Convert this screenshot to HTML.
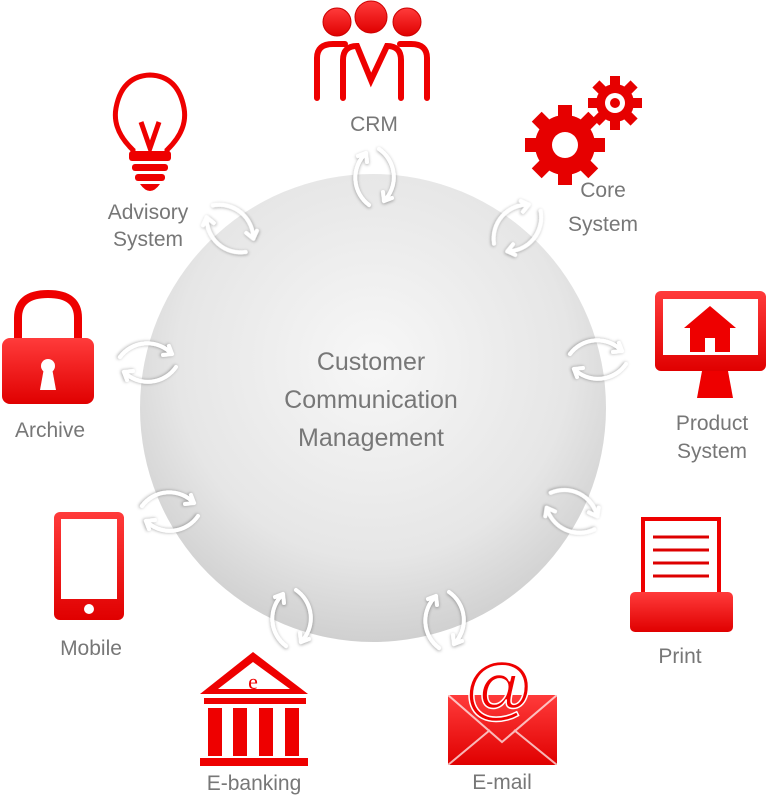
<!DOCTYPE html>
<html><head><meta charset="utf-8"><style>
html,body{margin:0;padding:0;background:#fff;width:768px;height:797px;overflow:hidden}
svg{display:block}
text{font-family:"Liberation Sans",sans-serif;fill:#777}
</style></head><body>
<svg width="768" height="797" viewBox="0 0 768 797" xmlns="http://www.w3.org/2000/svg">
<defs>
<radialGradient id="g" cx="0.5" cy="0.4" r="0.6">
<stop offset="0" stop-color="#f7f7f7"/><stop offset="0.7" stop-color="#e6e6e6"/><stop offset="1" stop-color="#d0d0d0"/>
</radialGradient>
<linearGradient id="r" x1="0" y1="0" x2="0" y2="1"><stop offset="0" stop-color="#ff3b3b"/><stop offset="1" stop-color="#e00000"/></linearGradient>
<filter id="sh" x="-50%" y="-50%" width="200%" height="200%"><feDropShadow dx="0" dy="1" stdDeviation="1.5" flood-color="#000" flood-opacity="0.35"/></filter>
<g id="ar" filter="url(#sh)" fill="none" stroke="#fff" stroke-width="4" stroke-linecap="round" stroke-linejoin="round">
<path d="M-9,-24 A34,34 0 0,0 -6,28"/><path d="M4,-28 A34,34 0 0,1 9,24"/>
<path d="M-17,-21 L-9,-24 L-8,-15"/>
<path d="M17,21 L9,24 L8,15"/>
</g>
</defs>
<ellipse cx="373" cy="408" rx="233" ry="234" fill="url(#g)"/>
<text x="371" y="370" font-size="25" text-anchor="middle" fill="#666">Customer</text>
<text x="371" y="408" font-size="25" text-anchor="middle" fill="#666">Communication</text>
<text x="371" y="446" font-size="25" text-anchor="middle" fill="#666">Management</text>

<use href="#ar" transform="translate(375,177)"/>
<use href="#ar" transform="translate(518,228) rotate(45)"/>
<use href="#ar" transform="translate(598,360) rotate(90)"/>
<use href="#ar" transform="translate(572,512) rotate(120)"/>
<use href="#ar" transform="translate(445,620)"/>
<use href="#ar" transform="translate(292,618)"/>
<use href="#ar" transform="translate(170,512) rotate(90)"/>
<use href="#ar" transform="translate(148,363) rotate(90)"/>
<use href="#ar" transform="translate(230,228) rotate(-45)"/>

<!-- CRM -->
<g fill="url(#r)" stroke="#c00" stroke-width="1">
<circle cx="337" cy="22" r="14"/><circle cx="371" cy="17" r="16"/><circle cx="407" cy="22" r="14"/>
</g>
<g fill="none" stroke="#e00" stroke-width="6" stroke-linecap="round">
<path d="M317,98 V58 Q317,44 333,44 H345"/><path d="M427,98 V58 Q427,44 411,44 H400"/>
<path d="M343,98 V60 Q343,46 357,46 L371,80 L387,46 Q401,46 401,60 V98"/>
</g>
<text x="374" y="131" font-size="21" text-anchor="middle">CRM</text>

<!-- Core -->
<g fill="#e60000">
<circle cx="565" cy="145" r="30"/>
<g transform="translate(565,145)"><rect x="-7" y="-40" width="14" height="80"/><rect x="-7" y="-40" width="14" height="80" transform="rotate(45)"/><rect x="-7" y="-40" width="14" height="80" transform="rotate(90)"/><rect x="-7" y="-40" width="14" height="80" transform="rotate(135)"/></g>
<circle cx="615" cy="103" r="19"/>
<g transform="translate(615,103)"><rect x="-5" y="-27" width="10" height="54"/><rect x="-5" y="-27" width="10" height="54" transform="rotate(45)"/><rect x="-5" y="-27" width="10" height="54" transform="rotate(90)"/><rect x="-5" y="-27" width="10" height="54" transform="rotate(135)"/></g>
</g>
<circle cx="565" cy="145" r="13" fill="#fff"/>
<circle cx="615" cy="103" r="10" fill="#fff"/><circle cx="615" cy="103" r="5" fill="#e60000"/>
<text x="603" y="197" font-size="21" text-anchor="middle">Core</text>
<text x="603" y="231" font-size="21" text-anchor="middle">System</text>

<!-- Product -->
<rect x="655" y="291" width="111" height="80" rx="6" fill="url(#r)"/>
<rect x="663" y="299" width="95" height="56" fill="#fff"/>
<path d="M702,371 H728 L733,398 H697 Z" fill="#e00"/>
<path d="M684,328 L710,306 L736,328 H730 V352 H715 V338 H705 V352 H690 V328 Z" fill="#e00"/>
<text x="712" y="430" font-size="21" text-anchor="middle">Product</text>
<text x="712" y="458" font-size="21" text-anchor="middle">System</text>

<!-- Print -->
<rect x="643" y="519" width="76" height="80" fill="#fff" stroke="#e00" stroke-width="4"/>
<g stroke="#d00" stroke-width="3"><line x1="653" y1="537" x2="709" y2="537"/><line x1="653" y1="550" x2="709" y2="550"/><line x1="653" y1="563" x2="709" y2="563"/><line x1="653" y1="576" x2="709" y2="576"/></g>
<rect x="630" y="592" width="103" height="40" rx="5" fill="url(#r)"/>
<text x="680" y="663" font-size="21" text-anchor="middle">Print</text>

<!-- Email -->
<rect x="448" y="695" width="109" height="70" fill="url(#r)"/>
<path d="M448,695 L502,742 L557,695 M448,765 L490,730 M557,765 L514,730" stroke="#fff" stroke-width="2" fill="none" opacity="0.7"/>
<text x="499" y="712" font-size="70" text-anchor="middle" style="fill:#e00" stroke="#fff" stroke-width="1.5">@</text>
<text x="502" y="789" font-size="21" text-anchor="middle">E-mail</text>

<!-- E-banking -->
<path d="M253,652 L200,694 H308 Z" fill="#e00"/>
<path d="M253,662 L218,689 H290 Z" fill="#fff"/>
<text x="253" y="689" font-size="22" text-anchor="middle" style="fill:#e00;font-family:'Liberation Serif',serif">e</text>
<rect x="204" y="698" width="102" height="6" fill="#e00"/>
<g fill="#e00"><rect x="208" y="708" width="14" height="48"/><rect x="233" y="708" width="14" height="48"/><rect x="259" y="708" width="14" height="48"/><rect x="285" y="708" width="14" height="48"/></g>
<rect x="200" y="758" width="108" height="8" fill="#e00"/>
<text x="254" y="790" font-size="21" text-anchor="middle">E-banking</text>

<!-- Mobile -->
<rect x="54" y="512" width="70" height="108" rx="6" fill="url(#r)"/>
<rect x="61" y="519" width="56" height="80" fill="#fff"/>
<circle cx="89" cy="609" r="5" fill="#fff"/>
<text x="91" y="655" font-size="21" text-anchor="middle">Mobile</text>

<!-- Archive -->
<path d="M18,340 V318 Q18,294 48,294 Q78,294 78,318 V340" fill="none" stroke="#e00" stroke-width="8"/>
<rect x="2" y="338" width="92" height="66" rx="8" fill="url(#r)"/>
<circle cx="48" cy="366" r="7" fill="#fff"/><path d="M44,368 L40,390 H56 L52,368 Z" fill="#fff"/>
<text x="50" y="437" font-size="21" text-anchor="middle">Archive</text>

<!-- Advisory -->
<path d="M133,150 Q112,130 116,108 Q122,76 150,75 Q178,76 184,108 Q188,130 167,150 V154 H133 Z" fill="none" stroke="#e00" stroke-width="5"/>
<path d="M141,122 L150,148 L159,122" fill="none" stroke="#e00" stroke-width="5"/>
<rect x="129" y="151" width="42" height="10" rx="3" fill="#e00"/>
<rect x="132" y="164" width="36" height="7" rx="3" fill="#e00"/>
<rect x="135" y="174" width="30" height="7" rx="3" fill="#e00"/>
<path d="M140,184 H160 Q155,191 150,191 Q145,191 140,184 Z" fill="#e00"/>
<text x="148" y="219" font-size="21" text-anchor="middle">Advisory</text>
<text x="148" y="246" font-size="21" text-anchor="middle">System</text>
</svg>
</body></html>
